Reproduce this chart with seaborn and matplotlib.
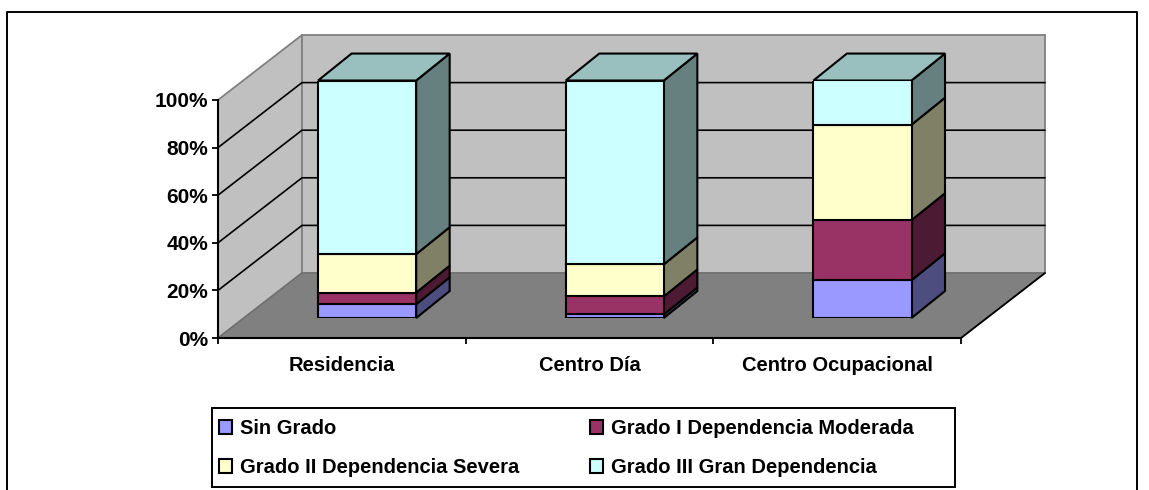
import matplotlib
matplotlib.use("Agg")
import matplotlib.pyplot as plt
from matplotlib.patches import Patch, Polygon, Rectangle
import numpy as np
import seaborn as sns

# Percent of each bar
categories = ["Residencia", "Centro Día", "Centro Ocupacional"]
series_names = ["Sin Grado", "Grado I Dependencia Moderada",
                "Grado II Dependencia Severa", "Grado III Gran Dependencia"]
sin_grado = [5.8, 1.5, 15.9]
grado_1 = [4.9, 7.6, 25.3]
grado_2 = [16.2, 13.5, 40.2]
grado_3 = [73.1, 77.4, 18.6]
y_ticks = [0, 20, 40, 60, 80, 100]
y_tick_labels = ["0%", "20%", "40%", "60%", "80%", "100%"]

front_colors = ["#9999FF", "#993366", "#FFFFCC", "#CCFFFF"]
side_colors = ["#4D4D80", "#4D1A33", "#808066", "#668080"]
top_color = "#99C0BF"

W, H = 1149, 490
sns.set_theme(style="white")
plt.rcParams["font.family"] = ["Liberation Sans", "DejaVu Sans"]
plt.rcParams["font.weight"] = "bold"
plt.rcParams["text.color"] = "black"


def px_axes(fig, left, top, right, bottom):
    return fig.add_axes([left / W, 1 - bottom / H, (right - left) / W, (bottom - top) / H])


fig = plt.figure(figsize=(W / 100, H / 100), dpi=100)
fig.patch.set_facecolor("white")

# outer chart border, open at the bottom
fig.add_artist(plt.Line2D([7 / W, 7 / W, 1137 / W, 1137 / W], [0, 1 - 12 / H, 1 - 12 / H, 0],
                          color="black", lw=1.4))

# axis plane (front of the floor)
ax = px_axes(fig, 218, 100, 961, 338)
ax.set_xlim(-0.5, 2.5)
ax.set_ylim(0, 100)
ax.patch.set_visible(False)

# depth of the box in data units of the axis plane
dx = 84 / (743 / 3)
dy = 65 / 2.38

floor = [(-0.5, 0), (2.5, 0), (2.5 + dx, dy), (-0.5 + dx, dy)]
ax.add_patch(Polygon(floor, fc="#808080", ec="none", clip_on=False, zorder=0))
ax.add_patch(Polygon([(-0.5, 0), (-0.5 + dx, dy), (-0.5 + dx, 100 + dy), (-0.5, 100)],
                     fc="#C0C0C0", ec="#808080", lw=1.3, clip_on=False, zorder=0))
ax.add_patch(Rectangle((-0.5 + dx, dy), 3, 100, fc="#C0C0C0", ec="#808080", lw=1.3,
                       clip_on=False, zorder=0))
ax.add_patch(Polygon(floor, fc="#808080", ec="#6E6E6E", lw=1.0, clip_on=False, zorder=0.5))
ax.plot([2.5, 2.5 + dx], [0, dy], color="black", lw=1.3, clip_on=False, zorder=1)
for t in y_ticks[1:-1]:
    ax.plot([-0.5, -0.5 + dx, 2.5 + dx], [t, t + dy, t + dy], color="black", lw=1.2,
            clip_on=False, zorder=1)

for side in ["top", "right"]:
    ax.spines[side].set_visible(False)
for side in ["left", "bottom"]:
    ax.spines[side].set_visible(True)
    ax.spines[side].set_color("black")
    ax.spines[side].set_linewidth(1.5)
ax.set_yticks(y_ticks, y_tick_labels, fontsize=15, fontweight="bold", color="black")
ax.set_xticks([-0.5, 0.5, 1.5, 2.5], [])
ax.tick_params(axis="both", which="major", length=4.5, width=1.3, color="black", left=True,
               bottom=True, pad=2.5)
for i, name in enumerate(categories):
    ax.text(i, -7.5, name, ha="center", va="top", fontsize=14.5, fontweight="bold",
            clip_on=False, color="black")

# bars live in a parallel plane, further back in the box
bars_ax = px_axes(fig, 218 + 25.3, 100 - 19.5, 961 + 25.3, 338 - 20)
bars_ax.set_xlim(-0.5, 2.5)
bars_ax.set_ylim(0, 100)
bars_ax.axis("off")

stack = np.array([sin_grado, grado_1, grado_2, grado_3])
bottoms = np.vstack([np.zeros(3), np.cumsum(stack, axis=0)[:-1]])
bar_w = 0.396
bdx = 33.5 / (743 / 3)
bdy = 27 / 2.38

for j in range(4):
    sns.barplot(x=np.arange(3), y=stack[j], bottom=bottoms[j], native_scale=True, ax=bars_ax,
                color=front_colors[j], saturation=1, width=bar_w, edgecolor="black",
                linewidth=1.5, zorder=3)
    for i in range(3):
        x1 = i + bar_w / 2
        b, t = bottoms[j][i], bottoms[j][i] + stack[j][i]
        bars_ax.add_patch(Polygon([(x1, b), (x1 + bdx, b + bdy), (x1 + bdx, t + bdy), (x1, t)],
                                  fc=side_colors[j], ec="black", lw=1.5, clip_on=False, zorder=2))
for i in range(3):
    x0, x1 = i - bar_w / 2, i + bar_w / 2
    t = stack[:, i].sum()
    bars_ax.add_patch(Polygon([(x0, t), (x1, t), (x1 + bdx, t + bdy), (x0 + bdx, t + bdy)],
                              fc=top_color, ec="black", lw=1.5, clip_on=False, zorder=2))
bars_ax.set_xlim(-0.5, 2.5)
bars_ax.set_ylim(0, 100)
bars_ax.axis("off")

# legend box is its own rectangle so it can span the width of the plot
fig.add_artist(Rectangle((212 / W, 1 - 487 / H), 743 / W, 79 / H, transform=fig.transFigure,
                         fc="white", ec="black", lw=1.4))
handles = [Patch(fc=c, ec="black", lw=1.5, label=n) for c, n in zip(front_colors, series_names)]
leg = fig.legend(handles=[handles[0], handles[2], handles[1], handles[3]], ncol=2,
                 loc="upper left", bbox_to_anchor=(219 / W, 1 - 419 / H), frameon=False,
                 labelcolor="black", fontsize=14.5, handlelength=0.65, handleheight=0.65,
                 handletextpad=0.4, columnspacing=3.5, labelspacing=1.0, borderpad=0,
                 borderaxespad=0)

fig.savefig("out.png", dpi=100)
